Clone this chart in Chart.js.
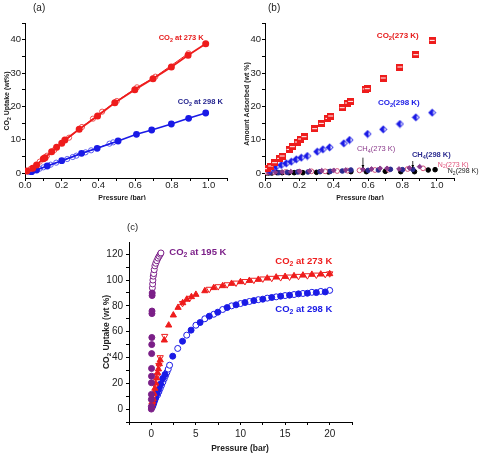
<!DOCTYPE html>
<html>
<head>
<meta charset="utf-8">
<script src="https://cdn.jsdelivr.net/npm/chart.js@4.4.1/dist/chart.umd.min.js"></script>
<style>
  body { margin: 0; background: #fff; width: 480px; height: 459px; position: relative; overflow: hidden; }
  canvas { position: absolute; }
</style>
</head>
<body>
<canvas id="chartA" width="240" height="200" style="left:0;top:0"></canvas>
<canvas id="chartB" width="240" height="200" style="left:240px;top:0"></canvas>
<canvas id="chartC" width="280" height="259" style="left:100px;top:200px"></canvas>
<script>
// ---- panel (a): CO2 uptake up to 1 bar ----
const a273AdsP = [0.01, 0.042, 0.063, 0.1, 0.109, 0.145, 0.172, 0.2, 0.217, 0.295, 0.395, 0.489, 0.598, 0.697, 0.797, 0.888, 0.984];
const a273AdsV = [0.6, 1.4, 2.4, 4.3, 4.6, 6.4, 7.7, 8.9, 9.9, 13.1, 17.1, 21.1, 25.0, 28.3, 31.8, 35.3, 38.8];
const a273DesP = [0.03, 0.08, 0.12, 0.16, 0.24, 0.31, 0.37, 0.42, 0.5, 0.61, 0.71, 0.89];
const a273DesV = [1.2, 3.4, 5.2, 6.9, 10.6, 13.8, 16.3, 18.4, 21.6, 25.7, 28.9, 35.9];
const a298AdsP = [0.036, 0.063, 0.121, 0.2, 0.308, 0.393, 0.507, 0.607, 0.69, 0.797, 0.891, 0.984];
const a298AdsV = [0.4, 0.9, 2.1, 3.7, 5.9, 7.4, 9.6, 11.6, 12.9, 14.7, 16.4, 18.0];
const a298DesP = [0.02, 0.05, 0.08, 0.1, 0.14, 0.17, 0.23, 0.26, 0.28, 0.33, 0.36, 0.46, 0.48];
const a298DesV = [0.3, 0.8, 1.3, 1.7, 2.5, 3.1, 4.2, 4.8, 5.2, 6.2, 6.8, 8.8, 9.2];

// ---- panel (b): CO2 / CH4 / N2 ----
const bCO2_273P = [0.014, 0.033, 0.056, 0.085, 0.1, 0.14, 0.159, 0.188, 0.207, 0.227, 0.289, 0.328, 0.366, 0.382, 0.449, 0.479, 0.498, 0.583, 0.595, 0.688, 0.785, 0.878, 0.973];
const bCO2_273V = [1.3, 2.1, 3.1, 4.4, 5.1, 7.1, 7.9, 9.3, 10.2, 10.9, 13.3, 14.9, 16.4, 17.1, 19.6, 21.0, 21.5, 25.2, 25.3, 28.5, 31.8, 35.5, 39.8];
const bCO2_298P = [0.027, 0.047, 0.066, 0.095, 0.124, 0.153, 0.182, 0.211, 0.246, 0.304, 0.337, 0.376, 0.459, 0.492, 0.597, 0.688, 0.785, 0.878, 0.973];
const bCO2_298V = [0.9, 1.6, 1.9, 2.4, 2.9, 3.4, 4.1, 4.6, 5.1, 6.4, 7.1, 7.7, 8.9, 9.9, 11.7, 13.1, 14.7, 16.7, 18.1];
const bCH4_273P = [0.02, 0.06, 0.1, 0.15, 0.2, 0.26, 0.33, 0.4, 0.47, 0.57, 0.62, 0.67, 0.71, 0.78, 0.84, 0.9];
const bCH4_273V = [0.1, 0.2, 0.3, 0.4, 0.5, 0.6, 0.7, 0.8, 0.9, 1.1, 1.2, 1.4, 1.4, 1.2, 1.5, 1.9];
const bCH4_298P = [0.03, 0.08, 0.13, 0.19, 0.25, 0.32, 0.38, 0.45, 0.5, 0.6, 0.66, 0.73, 0.8, 0.86];
const bCH4_298V = [0.1, 0.1, 0.2, 0.3, 0.3, 0.4, 0.5, 0.6, 0.9, 0.8, 0.9, 1.1, 1.0, 1.1];
const bN2_273P = [0.01, 0.05, 0.12, 0.2, 0.27, 0.35, 0.42, 0.48, 0.55, 0.64, 0.72, 0.83, 0.92];
const bN2_273V = [0.2, 0.3, 0.3, 0.4, 0.5, 0.5, 0.6, 0.7, 0.8, 0.9, 1.0, 1.2, 1.4];
const bN2_298P = [0.005, 0.02, 0.04, 0.07, 0.1, 0.14, 0.17, 0.22, 0.3, 0.37, 0.5, 0.59, 0.7, 0.79, 0.87, 0.95, 0.99];
const bN2_298V = [0, 0, 0, 0.1, 0.1, 0.1, 0.1, 0.1, 0.2, 0.3, 0.4, 0.4, 0.5, 0.4, 0.4, 0.9, 1.0];

// ---- panel (c): high pressure CO2 ----
const c195AdsP = [0.002, 0.004, 0.008, 0.012, 0.018, 0.025, 0.03, 0.04, 0.05, 0.06, 0.07, 0.08, 0.09, 0.1];
const c195AdsV = [0, 2, 7.5, 11.4, 20.4, 25.5, 31.5, 43, 50, 55.5, 74, 76, 88, 90];
const c195DesP = [0.12, 0.15, 0.18, 0.22, 0.27, 0.33, 0.4, 0.5, 0.62, 0.75, 0.88, 1.0, 1.08];
const c195DesV = [94, 97, 100, 103, 105, 108, 111, 113, 115, 117, 118.5, 120, 121];
const c273AdsP = [0.05, 0.1, 0.15, 0.2, 0.3, 0.4, 0.5, 0.6, 0.7, 0.8, 0.9, 1.0, 1.46, 1.95, 2.47, 3.0, 3.52, 3.97, 4.5, 5.0, 6, 7, 8, 9, 10, 11, 12, 13, 14, 15, 16, 17, 18, 19, 20];
const c273AdsV = [2, 4, 6, 8, 12, 16, 20, 24, 28, 31, 35, 38, 53.4, 65, 72.8, 78.7, 82.3, 85, 87, 88.8, 91.6, 94, 95.5, 97.3, 98.6, 99.6, 100.4, 101.4, 102.2, 102.7, 103.2, 103.7, 104.3, 104.5, 104.8];
const c273DesP = [0.08, 0.25, 0.45, 0.65, 0.85, 1.0, 1.5, 3.5, 4.3, 6.5, 7.5, 8.5, 9.5, 10.5, 11.5, 12.5, 13.5, 14.5, 15.5, 16.5, 17.5, 18.5, 19.5, 20];
const c273DesV = [3, 10, 18, 26, 34, 40, 56.5, 82, 86, 93, 95, 96.5, 97.8, 99, 100, 101, 101.5, 102, 102.5, 103, 103.5, 104, 104.5, 105];
const c298AdsP = [0.1, 0.2, 0.3, 0.4, 0.5, 0.65, 0.8, 0.9, 1.05, 1.28, 1.54, 2.4, 3.5, 4.46, 5.47, 6.5, 7.45, 8.5, 9.5, 10.5, 11.5, 12.5, 13.5, 14.5, 15.5, 16.5, 17.5, 18.5, 19.5];
const c298AdsV = [1.5, 3, 5, 7, 8.8, 12.1, 15, 17.3, 19.5, 23.8, 26.8, 41, 52.6, 61.2, 67.1, 72, 75.1, 78.7, 80.8, 82.6, 84.1, 85.2, 86.5, 87.5, 88.3, 89.3, 89.8, 90.3, 90.8];
const c298DesP = [0.7, 0.85, 1.0, 1.15, 1.3, 1.45, 1.6, 1.75, 1.9, 2.05, 2.96, 3.97, 5.0, 6.0, 7.0, 8.0, 9.0, 10, 11, 12, 13, 14, 15, 16, 17, 18, 19, 20];
const c298DesV = [11, 13.5, 16, 18.5, 21, 23.5, 26, 28.5, 31, 34, 47, 57.3, 65, 70, 73.5, 77.2, 80, 81.8, 83.4, 84.8, 86, 87, 88, 88.8, 89.6, 90.5, 91.2, 92];

const FAMILY = '"Liberation Sans", Arial, sans-serif';
Chart.defaults.font.family = FAMILY;
Chart.defaults.color = '#222';

const pts = (xs, ys) => xs.map((x, i) => ({ x: x, y: ys[i] }));

// text with "_2" style subscripts
function drawRich(ctx, str, x, y, o) {
  const parts = str.split(/_(\d)/);
  const w = o.bold ? 'bold ' : '';
  const fN = w + o.size + 'px ' + FAMILY;
  const fS = w + (o.size * 0.72).toFixed(1) + 'px ' + FAMILY;
  ctx.save();
  ctx.translate(x, y);
  if (o.rotate) ctx.rotate(o.rotate);
  ctx.fillStyle = o.color || '#000';
  ctx.textBaseline = 'middle';
  ctx.textAlign = 'left';
  let total = 0;
  parts.forEach((p, i) => { ctx.font = i % 2 ? fS : fN; total += ctx.measureText(p).width; });
  let cx = o.align === 'center' ? -total / 2 : 0;
  parts.forEach((p, i) => {
    ctx.font = i % 2 ? fS : fN;
    ctx.fillText(p, cx, i % 2 ? o.size * 0.32 : 0);
    cx += ctx.measureText(p).width;
  });
  ctx.restore();
}

// per chart plugin, texts kept in a closure (not run through the option resolver)
function notes(items, arrows) {
  return {
    id: 'notes',
    afterDraw(chart) {
      const ctx = chart.ctx;
      const sx = chart.scales.x, sy = chart.scales.y;
      items.forEach(n => {
        let x = n.px, y = n.py;
        if (n.at) { x = sx.getPixelForValue(n.at[0]); y = sy.getPixelForValue(n.at[1]); }
        drawRich(ctx, n.text, x, y, n);
      });
      (arrows || []).forEach(a => {
        const x0 = sx.getPixelForValue(a.from[0]), y0 = sy.getPixelForValue(a.from[1]);
        const x1 = sx.getPixelForValue(a.to[0]), y1 = sy.getPixelForValue(a.to[1]);
        ctx.save();
        ctx.strokeStyle = '#000'; ctx.fillStyle = '#000'; ctx.lineWidth = 0.8;
        ctx.beginPath(); ctx.moveTo(x0, y0); ctx.lineTo(x1, y1); ctx.stroke();
        const ang = Math.atan2(y1 - y0, x1 - x0);
        ctx.beginPath();
        ctx.moveTo(x1, y1);
        ctx.lineTo(x1 - 3 * Math.cos(ang - 0.5), y1 - 3 * Math.sin(ang - 0.5));
        ctx.lineTo(x1 - 3 * Math.cos(ang + 0.5), y1 - 3 * Math.sin(ang + 0.5));
        ctx.fill();
        ctx.restore();
      });
    }
  };
}

function axis(o) {
  return {
    type: 'linear', min: o.min, max: o.max,
    afterFit: s => { if (o.w) s.width = o.w; if (o.h) s.height = o.h; },
    grid: { display: true, drawOnChartArea: false, drawTicks: true, tickLength: o.tl, tickColor: '#000', tickWidth: 1 },
    border: { display: true, color: '#000', width: 1 },
    ticks: {
      stepSize: o.step, includeBounds: false, autoSkip: false, maxRotation: 0,
      padding: o.pad, color: '#222', font: { size: o.size },
      callback: o.label
    }
  };
}

// half filled point markers for panel (b)
function squareMark(color) {
  const c = document.createElement('canvas'); c.width = 7; c.height = 7;
  const g = c.getContext('2d');
  g.fillStyle = color; g.fillRect(0, 0, 7, 7);
  g.fillStyle = '#fff'; g.fillRect(1, 3, 5, 1);
  return c;
}
function diamondMark(color) {
  const c = document.createElement('canvas'); c.width = 9; c.height = 9;
  const g = c.getContext('2d');
  g.beginPath(); g.moveTo(4.5, 0.5); g.lineTo(8.5, 4.5); g.lineTo(4.5, 8.5); g.lineTo(0.5, 4.5); g.closePath();
  g.fillStyle = color; g.fill();
  g.beginPath(); g.moveTo(5.5, 2.5); g.lineTo(7.3, 4.5); g.lineTo(5.5, 6.5); g.closePath();
  g.fillStyle = '#fff'; g.fill();
  return c;
}

const tenths = v => { const k = Math.round(v * 10); return (k % 2 === 0 && k <= 10) ? (k / 10).toFixed(1) : ''; };
const tens = v => (v >= 0 && Math.round(v) % 10 === 0) ? String(Math.round(v)) : '';

const RED = '#ee1c1c', BLUE = '#1a1ae6', NAVY = '#1e1e8c', PURPLE = '#7b1f88';

const baseOpts = (pad, x, y) => ({
  responsive: false, animation: false,
  layout: { padding: pad },
  plugins: { legend: { display: false }, tooltip: { enabled: false } },
  scales: { x: x, y: y }
});

// ---- chart (a) ----
new Chart(document.getElementById('chartA'), {
  type: 'scatter',
  data: {
    datasets: [
      { data: pts(a273AdsP, a273AdsV), showLine: true, borderColor: RED, borderWidth: 1.8, pointStyle: 'circle', pointRadius: 2.6, pointBackgroundColor: RED, pointBorderColor: RED },
      { data: pts(a273DesP, a273DesV), showLine: true, borderColor: RED, borderWidth: 1, pointStyle: 'circle', pointRadius: 2.6, pointBackgroundColor: 'rgba(0,0,0,0)', pointBorderColor: '#f05050', pointBorderWidth: 1 },
      { data: pts(a298AdsP, a298AdsV), showLine: true, borderColor: BLUE, borderWidth: 1.6, pointStyle: 'circle', pointRadius: 2.6, pointBackgroundColor: BLUE, pointBorderColor: BLUE },
      { data: pts(a298DesP, a298DesV), showLine: true, borderColor: BLUE, borderWidth: 1, pointStyle: 'circle', pointRadius: 2.6, pointBackgroundColor: 'rgba(0,0,0,0)', pointBorderColor: '#5a5af0', pointBorderWidth: 1 }
    ]
  },
  options: baseOpts({ top: 23, right: 13, left: 0, bottom: 0 },
    axis({ min: 0, max: 1.1, step: 0.1, tl: 3, pad: -1, size: 9.5, h: 22, label: tenths }),
    axis({ min: -1.5, max: 45, step: 5, tl: 3, pad: 1, size: 9.5, w: 25, label: tens })),
  plugins: [notes([
    { text: '(a)', px: 33, py: 8, size: 10, color: '#222' },
    { text: 'CO_2 at 273 K', at: [0.728, 40.5], size: 7.5, bold: true, color: '#e61919' },
    { text: 'CO_2 at 298 K', at: [0.832, 21.4], size: 7.5, bold: true, color: NAVY },
    { text: 'CO_2 Uptake (wt%)', px: 7, py: 101, size: 7, bold: true, color: '#222', align: 'center', rotate: -Math.PI / 2 },
    { text: 'Pressure (bar)', px: 122, py: 198, size: 7, bold: true, color: '#222', align: 'center' }
  ])]
});

// ---- chart (b) ----
new Chart(document.getElementById('chartB'), {
  type: 'scatter',
  data: {
    datasets: [
      { data: pts(bCO2_273P, bCO2_273V), pointStyle: squareMark(RED), pointRadius: 3.5 },
      { data: pts(bCO2_298P, bCO2_298V), pointStyle: diamondMark(BLUE), pointRadius: 4 },
      { data: pts(bCH4_273P, bCH4_273V), pointStyle: 'rectRot', pointRadius: 2.4, pointBackgroundColor: '#8b3a8b', pointBorderColor: '#8b3a8b' },
      { data: pts(bCH4_298P, bCH4_298V), pointStyle: 'circle', pointRadius: 2.3, pointBackgroundColor: '#2b2b8f', pointBorderColor: '#2b2b8f' },
      { data: pts(bN2_273P, bN2_273V), pointStyle: 'circle', pointRadius: 2.4, pointBackgroundColor: '#fff', pointBorderColor: '#d0507a', pointBorderWidth: 1 },
      { data: pts(bN2_298P, bN2_298V), pointStyle: 'circle', pointRadius: 2.3, pointBackgroundColor: '#000', pointBorderColor: '#000' }
    ]
  },
  options: baseOpts({ top: 23, right: 26, left: 0, bottom: 0 },
    axis({ min: 0, max: 1.1, step: 0.1, tl: 3, pad: -1, size: 9.5, h: 22, label: tenths }),
    axis({ min: -1.5, max: 45, step: 5, tl: 3, pad: 1, size: 9.5, w: 25, label: tens })),
  plugins: [notes([
    { text: '(b)', px: 28, py: 8, size: 10, color: '#222' },
    { text: 'CO_2(273 K)', at: [0.651, 41.2], size: 8, bold: true, color: '#e61919' },
    { text: 'CO_2(298 K)', at: [0.657, 21.1], size: 8, bold: true, color: BLUE },
    { text: 'CH_4(273 K)', at: [0.535, 7.1], size: 7.5, color: '#8b3a8b' },
    { text: 'CH_4(298 K)', at: [0.855, 5.4], size: 7.5, bold: true, color: '#2b2b8f' },
    { text: 'N_2(273 K)', at: [1.006, 2.5], size: 7, color: '#e0507a' },
    { text: 'N_2(298 K)', at: [1.064, 0.5], size: 7, color: '#222' },
    { text: 'Amount Adsorbed (wt %)', px: 7, py: 104, size: 7, bold: true, color: '#222', align: 'center', rotate: -Math.PI / 2 },
    { text: 'Pressure (bar)', px: 120, py: 198, size: 7, bold: true, color: '#222', align: 'center' }
  ], [
    { from: [0.57, 4.6], to: [0.57, 1.6] },
    { from: [0.86, 3.6], to: [0.86, 1.6] }
  ])]
});

// ---- chart (c) ----
const fives = v => (v >= 0 && Math.abs(v / 5 - Math.round(v / 5)) < 1e-6) ? String(Math.round(v)) : '';
const twenties = v => (v >= 0 && Math.round(v) % 20 === 0) ? String(Math.round(v)) : '';
new Chart(document.getElementById('chartC'), {
  type: 'scatter',
  data: {
    datasets: [
      { data: pts(c195AdsP, c195AdsV), pointStyle: 'circle', pointRadius: 3, pointBackgroundColor: PURPLE, pointBorderColor: PURPLE },
      { data: pts(c195DesP, c195DesV), pointStyle: 'circle', pointRadius: 3, pointBackgroundColor: '#fff', pointBorderColor: PURPLE, pointBorderWidth: 1 },
      { data: pts(c273AdsP, c273AdsV), pointStyle: 'triangle', pointRadius: 3.6, pointBackgroundColor: RED, pointBorderColor: RED },
      { data: pts(c273DesP, c273DesV), pointStyle: 'triangle', pointRotation: 180, pointRadius: 3.6, pointBackgroundColor: '#fff', pointBorderColor: RED, pointBorderWidth: 1 },
      { data: pts(c298AdsP, c298AdsV), pointStyle: 'circle', pointRadius: 3, pointBackgroundColor: BLUE, pointBorderColor: BLUE },
      { data: pts(c298DesP, c298DesV), pointStyle: 'circle', pointRadius: 3, pointBackgroundColor: '#fff', pointBorderColor: BLUE, pointBorderWidth: 1 }
    ]
  },
  options: baseOpts({ top: 42, right: 28, left: 0, bottom: 0 },
    axis({ min: -2.5, max: 22.5, step: 2.5, tl: 3, pad: 3, size: 10, h: 37, label: fives }),
    axis({ min: -10, max: 129.5, step: 10, tl: 3, pad: 3, size: 10, w: 29, label: twenties })),
  plugins: [notes([
    { text: '(c)', px: 27, py: 27, size: 9.5, color: '#222' },
    { text: 'CO_2 at 195 K', at: [2.02, 121.8], size: 9.5, bold: true, color: PURPLE },
    { text: 'CO_2 at 273 K', at: [13.9, 114.6], size: 9.5, bold: true, color: RED },
    { text: 'CO_2 at 298 K', at: [13.9, 77.2], size: 9.5, bold: true, color: BLUE },
    { text: 'CO_2 Uptake (wt %)', px: 7, py: 132, size: 8.5, bold: true, color: '#222', align: 'center', rotate: -Math.PI / 2 },
    { text: 'Pressure (bar)', px: 140, py: 249, size: 8.5, bold: true, color: '#222', align: 'center' }
  ])]
});
</script>
</body>
</html>
